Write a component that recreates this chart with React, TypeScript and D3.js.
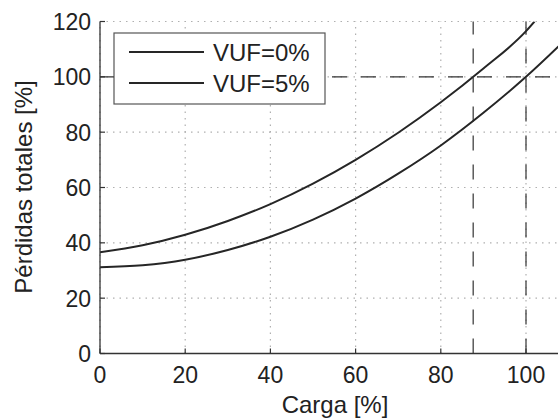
import React from "react";
import * as d3 from "d3";

const xTicks = [0, 20, 40, 60, 80, 100];
const yTicks = [0, 20, 40, 60, 80, 100, 120];
const seriesNames = ["VUF=0%", "VUF=5%"];

const loadVUF0 = [0, 10, 20, 30, 40, 50, 60, 70, 80, 90, 100, 110];
const lossVUF0 = [31.2, 31.9, 33.9, 37.4, 42.2, 48.4, 56.0, 65.0, 75.2, 87.0, 100, 114.5];

const loadVUF5 = [0, 10, 20, 30, 40, 50, 60, 70, 80, 90, 100, 102];
const lossVUF5 = [36.6, 39.1, 42.9, 47.9, 54.0, 61.4, 70.0, 79.8, 90.8, 103.0, 116.5, 120];

const derateLoads = [87.6, 100];
const ratedLoss = 100;

const W = 558;
const H = 419;
const FONT = "'Liberation Sans', Arial, Helvetica, sans-serif";

export default function App() {
  const x = d3.scaleLinear().domain([0, 110]).range([100, 568.6]);
  const y = d3.scaleLinear().domain([0, 120]).range([353.5, 21.5]);

  const line = d3
    .line<[number, number]>()
    .x((d) => x(d[0]))
    .y((d) => y(d[1]))
    .curve(d3.curveMonotoneX);

  const d0 = line(loadVUF0.map((v, i) => [v, lossVUF0[i]] as [number, number])) || "";
  const d5 = line(loadVUF5.map((v, i) => [v, lossVUF5[i]] as [number, number])) || "";

  const gridColor = "#b0b0b0";
  const ink = "#262626";

  return (
    <svg
      width={W}
      height={H}
      style={{ position: "absolute", left: 0, top: 0, background: "#fff" }}
      fontFamily={FONT}
    >
      <defs>
        <clipPath id="plot">
          <rect x={x(0)} y={y(120)} width={x(110) - x(0)} height={y(0) - y(120)} />
        </clipPath>
      </defs>
      {xTicks.map((t) => (
        <line
          key={"gx" + t}
          x1={x(t)}
          x2={x(t)}
          y1={y(0)}
          y2={y(120)}
          stroke={gridColor}
          strokeWidth={1.2}
          strokeDasharray="1.5 5"
        />
      ))}
      {yTicks.map((t) => (
        <line
          key={"gy" + t}
          x1={x(0)}
          x2={x(110)}
          y1={y(t)}
          y2={y(t)}
          stroke={gridColor}
          strokeWidth={1.2}
          strokeDasharray="1.5 5"
        />
      ))}
      <line
        x1={x(0)}
        x2={x(110)}
        y1={y(ratedLoss)}
        y2={y(ratedLoss)}
        stroke="#333"
        strokeWidth={1.2}
        strokeDasharray="15 14"
      />
      {derateLoads.map((v) => (
        <line
          key={"dv" + v}
          x1={x(v)}
          x2={x(v)}
          y1={y(0)}
          y2={y(120)}
          stroke="#333"
          strokeWidth={1.2}
          strokeDasharray="15 14"
        />
      ))}
      <g clipPath="url(#plot)">
        <path d={d0} fill="none" stroke={ink} strokeWidth={2} />
        <path d={d5} fill="none" stroke={ink} strokeWidth={2} />
      </g>
      <line x1={x(0)} x2={x(0)} y1={y(0)} y2={y(120)} stroke="#333" strokeWidth={1.3} />
      <line x1={x(0)} x2={x(110)} y1={y(0)} y2={y(0)} stroke="#333" strokeWidth={1.3} />
      {xTicks.map((t) => (
        <g key={"xt" + t}>
          <line x1={x(t)} x2={x(t)} y1={y(0)} y2={y(0) - 5} stroke="#333" strokeWidth={1.2} />
          <text x={x(t)} y={383} textAnchor="middle" fontSize={23} fill="#222">
            {t}
          </text>
        </g>
      ))}
      {yTicks.map((t) => (
        <g key={"yt" + t}>
          <line x1={x(0)} x2={x(0) + 5} y1={y(t)} y2={y(t)} stroke="#333" strokeWidth={1.2} />
          <text x={91} y={y(t) + 8.5} textAnchor="end" fontSize={23} fill="#222">
            {t}
          </text>
        </g>
      ))}
      <text x={335} y={413} textAnchor="middle" fontSize={24} fill="#222">
        Carga [%]
      </text>
      <text
        transform={`translate(32,187) rotate(-90)`}
        textAnchor="middle"
        fontSize={24}
        fill="#222"
      >
        Pérdidas totales [%]
      </text>
      <rect x={114} y={33} width={211} height={71} fill="#fff" stroke="#555" strokeWidth={1.2} />
      {seriesNames.map((n, i) => (
        <g key={n}>
          <line x1={129} x2={204} y1={52 + i * 31} y2={52 + i * 31} stroke={ink} strokeWidth={2} />
          <text x={213} y={52 + i * 31 + 8.5} fontSize={24} fill="#222">
            {n}
          </text>
        </g>
      ))}
    </svg>
  );
}
